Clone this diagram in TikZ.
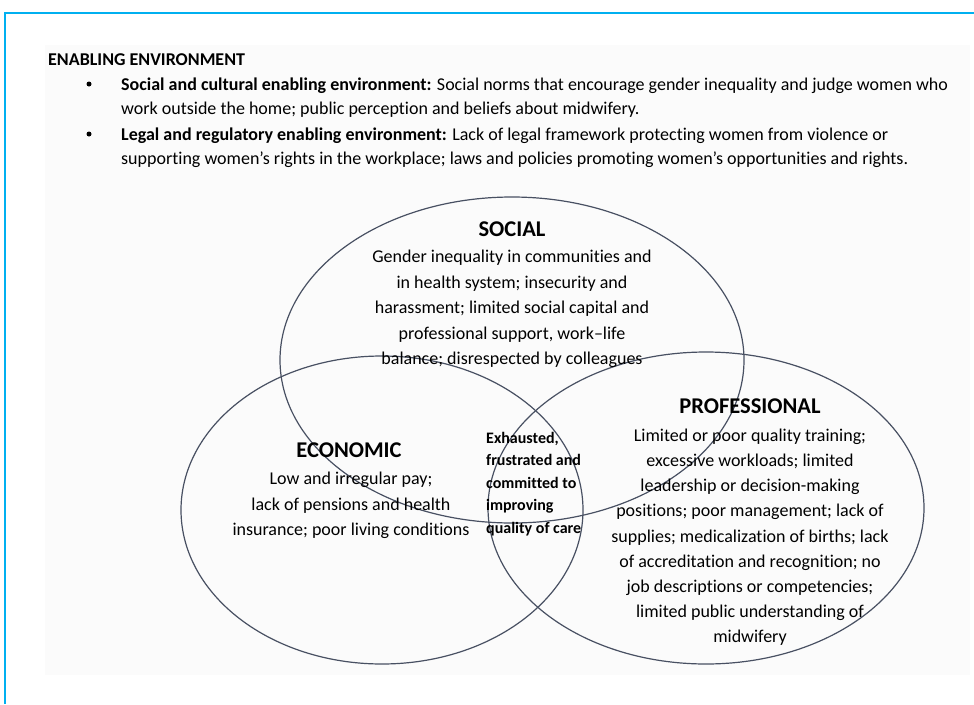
\documentclass[tikz,border=0pt]{standalone}
\usepackage{fontspec}
\setmainfont{Carlito}[Ligatures=NoCommon]
\usetikzlibrary{positioning,shapes.geometric}
\definecolor{framecyan}{RGB}{0,176,240}
\definecolor{ringgray}{RGB}{72,80,98}

\tikzset{
  ring/.style={draw=ringgray, line width=1.2pt, ellipse, inner sep=0pt},
  heading/.style={font=\fontsize{22.5}{26}\selectfont\bfseries, inner sep=0pt},
  body/.style={font=\fontsize{18}{25.5}\selectfont, align=center, inner sep=0pt, anchor=north},
  core/.style={font=\fontsize{16}{22.5}\selectfont\bfseries, align=left, inner sep=0pt, anchor=north west},
  bullettext/.style={font=\fontsize{18}{23.5}\selectfont, align=left, inner sep=0pt, anchor=north west},
  dot/.style={circle, fill=black, inner sep=0pt, minimum size=5pt}
}

\begin{document}
\begin{tikzpicture}[x=1pt, y=-1pt]
  \useasboundingbox (0,0) rectangle (974,704);

  % Page and frame
  \fill[gray!3] (45,45) rectangle (970,675);
  \draw[framecyan, line width=2.5pt] (5,704) -- (5,13) -- (974,13);

  % Enabling environment
  \node[font=\fontsize{18}{20}\selectfont\bfseries, inner sep=0pt, anchor=west] (enabling) at (48,60) {ENABLING ENVIRONMENT};
  \node[dot] (dot1) at (89,84) {};
  \node[dot] (dot2) at (89,134) {};
  \node[bullettext] (sociocultural) at (121,78)
    {\textbf{Social and cultural enabling environment:} Social norms that encourage gender inequality and judge women who\\
     work outside the home; public perception and beliefs about midwifery.};
  \node[bullettext] (legal) at (121,128)
    {\textbf{Legal and regulatory enabling environment:} Lack of legal framework protecting women from violence or\\
     supporting women’s rights in the workplace; laws and policies promoting women’s opportunities and rights.};

  % Circles
  \node[ring, minimum width=464pt, minimum height=326pt] (social) at (512,360) {};
  \node[ring, minimum width=402pt, minimum height=308pt] (economic) at (382,510) {};
  \node[ring, minimum width=436pt, minimum height=312pt] (professional) at (706,508) {};

  % Social
  \node[heading] (socialtitle) at (512,229) {SOCIAL};
  \node[body] (socialtext) at (512,250)
    {Gender inequality in communities and\\ in health system; insecurity and\\
     harassment; limited social capital and\\ professional support, work--life\\
     balance; disrespected by colleagues};

  % Economic
  \node[heading] (economictitle) at (349,450) {ECONOMIC};
  \node[body] (economictext) at (351,472)
    {Low and irregular pay;\\ lack of pensions and health\\ insurance; poor living conditions};

  % Professional
  \node[heading] (professionaltitle) at (750,406) {PROFESSIONAL};
  \node[body, font=\fontsize{18}{25.2}\selectfont] (professionaltext) at (750,428.5)
    {Limited or poor quality training;\\ excessive workloads; limited\\
     leadership or decision-making\\ positions; poor management; lack of\\
     supplies; medicalization of births; lack\\ of accreditation and recognition; no\\
     job descriptions or competencies;\\ limited public understanding of\\ midwifery};

  % Centre
  \node[core] (midwife) at (486,432)
    {Exhausted,\\ frustrated and\\ committed to\\ improving\\ quality of care};
\end{tikzpicture}
\end{document}
